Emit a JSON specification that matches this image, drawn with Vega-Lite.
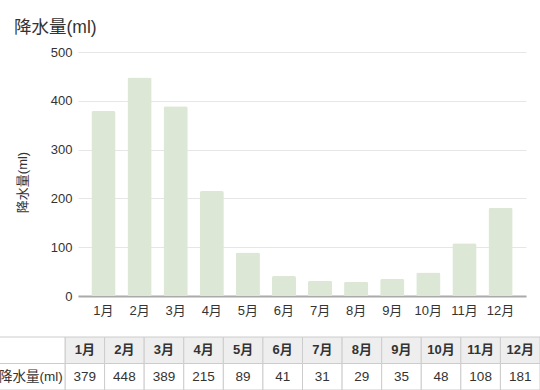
{
  "$schema": "https://vega.github.io/schema/vega-lite/v6.json",
  "width": 448,
  "height": 244,
  "autosize": {"type": "none"},
  "padding": {"left": 78, "top": 52, "right": 14, "bottom": 94},
  "background": "white",
  "config": {
    "font": "Liberation Sans, Noto Sans CJK JP, sans-serif",
    "view": {"stroke": null}
  },
  "title": {
    "text": "降水量(ml)",
    "anchor": "start",
    "frame": "group",
    "dx": -64,
    "offset": 10,
    "fontSize": 17.5,
    "fontWeight": "normal",
    "color": "#333333"
  },
  "datasets": {
    "rain": [
      {"month": "1月", "mm": 379},
      {"month": "2月", "mm": 448},
      {"month": "3月", "mm": 389},
      {"month": "4月", "mm": 215},
      {"month": "5月", "mm": 89},
      {"month": "6月", "mm": 41},
      {"month": "7月", "mm": 31},
      {"month": "8月", "mm": 29},
      {"month": "9月", "mm": 35},
      {"month": "10月", "mm": 48},
      {"month": "11月", "mm": 108},
      {"month": "12月", "mm": 181}
    ],
    "rowlabel": [{"label": "降水量(ml)"}]
  },
  "data": {"name": "rain"},
  "resolve": {"scale": {"x": "independent", "y": "independent"}},
  "layer": [
    {
      "mark": {"type": "bar", "color": "#dce8d5", "cornerRadiusTopLeft": 2, "cornerRadiusTopRight": 2},
      "encoding": {
        "x": {
          "field": "month", "type": "nominal", "sort": null,
          "scale": {"paddingInner": 0.33, "paddingOuter": 0.37},
          "axis": {
            "title": null, "labelAngle": 0, "domainColor": "#aaaaaa", "domainWidth": 2,
            "ticks": false, "labelPadding": 8, "labelFontSize": 13, "labelColor": "#333333"
          }
        },
        "y": {
          "field": "mm", "type": "quantitative",
          "scale": {"domain": [0, 500]},
          "axis": {
            "values": [0, 100, 200, 300, 400, 500],
            "title": "降水量(ml)", "titleFontSize": 13, "titleFontWeight": "normal",
            "titleColor": "#333333", "titlePadding": 21, "titleY": 130,
            "domain": false, "ticks": false, "labelPadding": 6,
            "labelFontSize": 13, "labelColor": "#333333", "gridColor": "#e6e6e6"
          }
        }
      }
    },
    {
      "layer": [
        {
          "mark": {"type": "rect", "fill": "#eeeeee", "stroke": "#cccccc", "strokeWidth": 1},
          "encoding": {
            "x": {"field": "month", "type": "nominal", "sort": null, "scale": {"range": [-13, 462], "paddingInner": 0, "paddingOuter": 0}, "axis": null},
            "y": {"datum": "header", "type": "nominal", "scale": {"type": "band", "domain": ["header", "value"], "range": [285, 338], "paddingInner": 0, "paddingOuter": 0}, "axis": null}
          }
        },
        {
          "mark": {"type": "rect", "fill": "#ffffff", "stroke": "#cccccc", "strokeWidth": 1},
          "encoding": {
            "x": {"field": "month", "type": "nominal", "sort": null},
            "y": {"datum": "value", "type": "nominal"}
          }
        },
        {
          "mark": {"type": "text", "fontSize": 13, "fontWeight": "bold", "color": "#333333"},
          "encoding": {
            "x": {"field": "month", "type": "nominal", "sort": null},
            "y": {"datum": "header", "type": "nominal"},
            "text": {"field": "month"}
          }
        },
        {
          "mark": {"type": "text", "fontSize": 13.5, "color": "#333333"},
          "encoding": {
            "x": {"field": "month", "type": "nominal", "sort": null},
            "y": {"datum": "value", "type": "nominal"},
            "text": {"field": "mm"}
          }
        }
      ]
    },
    {
      "data": {"name": "rowlabel"},
      "layer": [
        {
          "mark": {"type": "rect", "fill": "#ffffff", "stroke": "#cccccc", "strokeWidth": 1},
          "encoding": {
            "x": {"field": "label", "type": "nominal", "scale": {"range": [-79, -13], "paddingInner": 0, "paddingOuter": 0}, "axis": null},
            "y": {"datum": "header", "type": "nominal", "scale": {"type": "band", "domain": ["header", "value"], "range": [285, 338], "paddingInner": 0, "paddingOuter": 0}, "axis": null}
          }
        },
        {
          "mark": {"type": "rect", "fill": "#ffffff", "stroke": "#cccccc", "strokeWidth": 1},
          "encoding": {
            "x": {"field": "label", "type": "nominal"},
            "y": {"datum": "value", "type": "nominal"}
          }
        },
        {
          "mark": {"type": "text", "fontSize": 13.5, "color": "#333333", "align": "left"},
          "encoding": {
            "x": {"field": "label", "type": "nominal", "bandPosition": 0},
            "y": {"datum": "value", "type": "nominal"},
            "text": {"field": "label"}
          }
        }
      ]
    }
  ]
}
